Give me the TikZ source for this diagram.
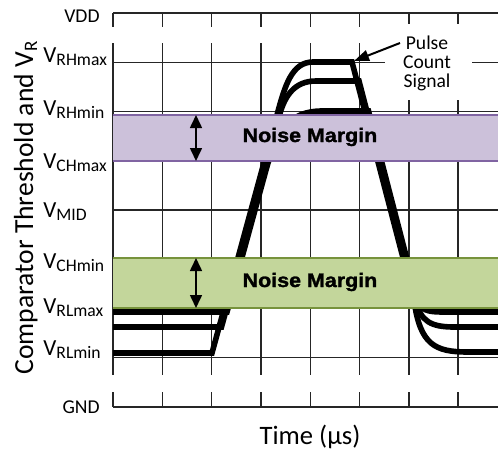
\documentclass[tikz,border=0pt]{standalone}
\usepackage{fontspec}
\setmainfont{Carlito}
\newfontfamily\nmfont{Liberation Sans}[FakeStretch=1.1, BoldFeatures={FakeBold=1.5}]
\usetikzlibrary{arrows.meta}
\definecolor{bandpurple}{RGB}{204,193,218}
\definecolor{edgepurple}{RGB}{128,100,162}
\definecolor{bandgreen}{RGB}{195,214,155}
\definecolor{edgegreen}{RGB}{119,147,60}
\newcommand\vlab[1]{V\raisebox{-1.6pt}{\fontsize{8.8}{9}\selectfont #1}}
\begin{document}
\begin{tikzpicture}[x=0.5pt,y=-0.5pt,
  gridline/.style={line width=0.7pt, draw=black!85},
  trace/.style={line width=2.8pt, line join=miter},
  lbl/.style={anchor=base west, inner sep=0pt, font=\fontsize{11.5}{12}\selectfont},
  rlbl/.style={anchor=base east, inner sep=0pt, font=\fontsize{9.8}{10}\selectfont},
  nmtext/.style={inner sep=0pt, font=\nmfont\bfseries\fontsize{9.75}{10}\selectfont},
  dblarrow/.style={line width=0.8pt, {Triangle[length=6.5pt,width=6pt]}-{Triangle[length=6.5pt,width=6pt]}}]
\useasboundingbox (0,0) rectangle (498,450);
% grid
\foreach \i in {0,...,7} {
  \pgfmathsetmacro\xx{113+49.3*\i}
  \draw[gridline] (\xx,13) -- (\xx,27);
  \draw[gridline] (\xx,43) -- (\xx,375);
  \draw[gridline] (\xx,392) -- (\xx,407);
}
\draw[gridline] (113,13) -- (498,13);
\draw[gridline] (113,407) -- (498,407);
\foreach \j in {1,...,7} {
  \pgfmathsetmacro\yy{13+49.25*\j}
  \draw[gridline] (113,\yy) -- (498,\yy);
}
% traces
\draw[trace] (113,353) -- (212,353) -- (277,115) .. controls (285,85) and (292,62) .. (313,62)
  -- (352,62) -- (414,300) .. controls (420,345) and (435,352) .. (468,352) -- (498,352);
\draw[trace] (113,327) -- (221.5,327) -- (279.5,115) .. controls (285,95) and (295,81) .. (316,81)
  -- (359,81) -- (416,300) .. controls (420,322) and (432,327) .. (454,327) -- (498,327);
\draw[trace] (113,312) -- (227,312) -- (266,170) .. controls (277,130) and (290,111) .. (322,111)
  -- (368.5,111) -- (417.5,300) .. controls (420,310) and (428,312) .. (442,312) -- (498,312);
% bands
\fill[bandpurple] (113,115) rectangle (498,161);
\draw[edgepurple, line width=1pt] (113,115) -- (498,115) (113,161) -- (498,161);
\fill[bandgreen] (113,258) rectangle (498,308);
\draw[edgegreen, line width=1pt] (113,258) -- (498,258) (113,308) -- (498,308);
\coordinate (pa1) at (196,115);
\coordinate (pa2) at (196,161);
\coordinate (ga1) at (196,258);
\coordinate (ga2) at (196,308);
\draw[dblarrow] (pa1) -- (pa2);
\draw[dblarrow] (ga1) -- (ga2);
\node[nmtext] (nm1) at (310,137) {Noise Margin};
\node[nmtext] (nm2) at (310,282) {Noise Margin};
% pulse count signal
\fill[white] (385,24) rectangle (472,100);
\node[align=center, inner sep=0pt, font=\fontsize{9.8}{9.5}\selectfont] (pcs) at (427,63) {Pulse\\Count\\Signal};
\coordinate (pst) at (400,43);
\coordinate (ptip) at (354,61);
\draw[line width=1pt, -{Triangle[length=7.5pt,width=5.5pt]}] (pst) -- (ptip);
% axis labels
\node[rlbl] (vdd) at (100,22) {VDD};
\node[rlbl] (gnd) at (100,413) {GND};
\node[lbl] (l1) at (43,62.7) {\vlab{RHmax}};
\node[lbl] (l2) at (43,115) {\vlab{RHmin}};
\node[lbl] (l3) at (43,168) {\vlab{CHmax}};
\node[lbl] (l4) at (43,217) {\vlab{MID}};
\node[lbl] (l5) at (43,268) {\vlab{CHmin}};
\node[lbl] (l6) at (43,313) {\vlab{RLmax}};
\node[lbl] (l7) at (43,355) {\vlab{RLmin}};
\node[rotate=90, anchor=base, inner sep=0pt, font=\fontsize{13.8}{15}\selectfont] (ytitle) at (33,208)
  {Comparator Threshold and V\raisebox{-2pt}{\fontsize{9.5}{10}\selectfont R}};
\node[anchor=base, inner sep=0pt, font=\fontsize{13.3}{15}\selectfont] (xtitle) at (310,444) {Time (µs)};
\end{tikzpicture}
\end{document}
